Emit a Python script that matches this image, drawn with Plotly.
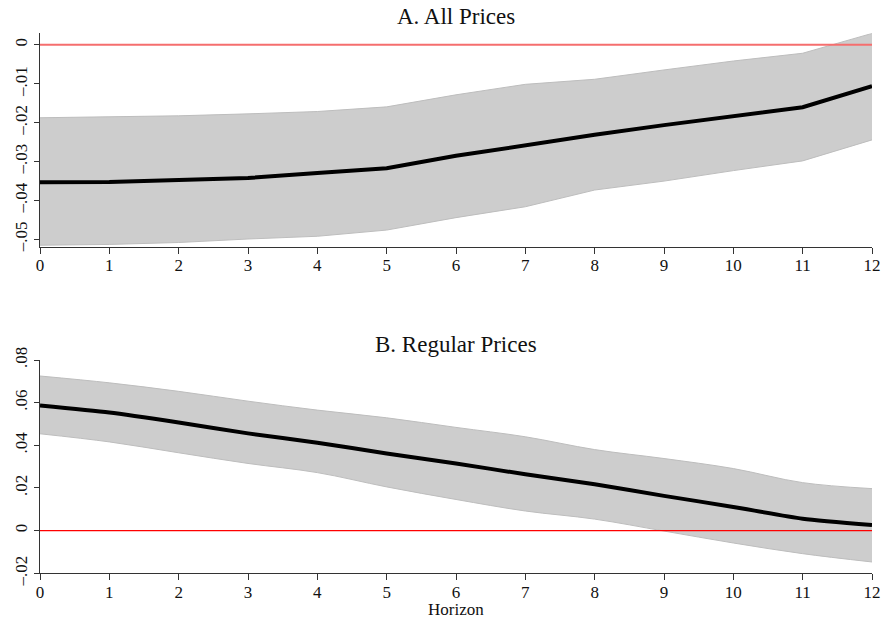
import plotly.graph_objects as go

# Impulse responses by horizon, with confidence bands
horizon = list(range(13))

all_mean = [-0.0354, -0.0353, -0.0348, -0.0343, -0.0330, -0.0318, -0.0286,
            -0.0258, -0.0232, -0.0207, -0.0183, -0.0161, -0.0107]
all_upper = [-0.0188, -0.0186, -0.0183, -0.0178, -0.0172, -0.0160, -0.0129,
             -0.0102, -0.0089, -0.0065, -0.0042, -0.0022, 0.0029]
all_lower = [-0.0516, -0.0514, -0.0509, -0.0500, -0.0493, -0.0477, -0.0445,
             -0.0417, -0.0374, -0.0351, -0.0324, -0.0299, -0.0245]

reg_mean = [0.0587, 0.0554, 0.0507, 0.0456, 0.0412, 0.0362, 0.0315,
            0.0264, 0.0217, 0.0163, 0.0111, 0.0056, 0.0026]
reg_upper = [0.0725, 0.0693, 0.0653, 0.0607, 0.0565, 0.0529, 0.0484,
             0.0440, 0.0380, 0.0338, 0.0291, 0.0225, 0.0197]
reg_lower = [0.0454, 0.0416, 0.0365, 0.0315, 0.0272, 0.0205, 0.0146,
             0.0092, 0.0054, -0.0002, -0.0058, -0.0108, -0.0147]

a_ticks = [0, -0.01, -0.02, -0.03, -0.04, -0.05]
a_ticktext = ["0", "\u2013.01", "\u2013.02", "\u2013.03", "\u2013.04", "\u2013.05"]
b_ticks = [-0.02, 0, 0.02, 0.04, 0.06, 0.08]
b_ticktext = ["\u2013.02", "0", ".02", ".04", ".06", ".08"]

panel_a_title = "A. All Prices"
panel_b_title = "B. Regular Prices"
x_title = "Horizon"

W, H = 881, 618
FONT = "Liberation Serif"
BAND = "#cdcdcd"
BAND_EDGE = "#bdbdbd"


def py(px):
    """Convert a pixel row to paper y."""
    return 1 - px / H


fig = go.Figure()


def add_panel(xa, ya, mean, upper, lower, zero_color, zero_width, shape):
    fig.add_trace(go.Scatter(x=horizon, y=upper, mode="lines",
                             line=dict(color=BAND_EDGE, width=1, shape=shape),
                             xaxis=xa, yaxis=ya, showlegend=False, hoverinfo="skip"))
    fig.add_trace(go.Scatter(x=horizon, y=lower, mode="lines", fill="tonexty",
                             fillcolor=BAND,
                             line=dict(color=BAND_EDGE, width=1, shape=shape),
                             xaxis=xa, yaxis=ya, showlegend=False, hoverinfo="skip"))
    fig.add_trace(go.Scatter(x=[horizon[0], horizon[-1]], y=[0, 0], mode="lines",
                             line=dict(color=zero_color, width=zero_width),
                             xaxis=xa, yaxis=ya, showlegend=False, hoverinfo="skip"))
    fig.add_trace(go.Scatter(x=horizon, y=mean, mode="lines",
                             line=dict(color="black", width=4, shape=shape,
                                       smoothing=0.6),
                             xaxis=xa, yaxis=ya, showlegend=False, hoverinfo="skip"))


add_panel("x", "y", all_mean, all_upper, all_lower, "rgb(245,110,110)", 2, "linear")
add_panel("x2", "y2", reg_mean, reg_upper, reg_lower, "red", 1.3, "spline")

xaxis_common = dict(range=[0, 12], tickmode="array", tickvals=horizon,
                    ticks="outside", ticklen=6, tickcolor="#333", tickwidth=1,
                    showline=True, linecolor="#333", linewidth=1.2,
                    showgrid=False, zeroline=False, automargin=False,
                    ticklabelstandoff=-3,
                    tickfont=dict(family=FONT, size=17, color="#111"))
yaxis_common = dict(ticks="outside", ticklen=5, tickcolor="#333", tickwidth=1,
                    showline=True, linecolor="#333", linewidth=1.2,
                    showgrid=False, zeroline=False, automargin=False,
                    tickangle=-90, tickmode="array",
                    tickfont=dict(family=FONT, size=17, color="#111"))

fig.update_layout(
    width=W, height=H,
    margin=dict(l=40, r=9, t=0, b=0),
    paper_bgcolor="white", plot_bgcolor="white",
    xaxis=dict(xaxis_common, anchor="y"),
    yaxis=dict(yaxis_common, anchor="x", domain=[py(246.7), py(33.3)],
               range=[-0.05198, 0.00293], tickvals=a_ticks, ticktext=a_ticktext),
    xaxis2=dict(xaxis_common, anchor="y2"),
    yaxis2=dict(yaxis_common, anchor="x2", domain=[py(573.3), py(360)],
                range=[-0.02001, 0.08], tickvals=b_ticks, ticktext=b_ticktext),
    annotations=[
        dict(text=panel_a_title, xref="paper", yref="paper", x=0.5, y=py(17),
             showarrow=False, yanchor="middle",
             font=dict(family=FONT, size=23, color="#111")),
        dict(text=panel_b_title, xref="paper", yref="paper", x=0.5, y=py(344),
             showarrow=False, yanchor="middle",
             font=dict(family=FONT, size=23, color="#111")),
        dict(text=x_title, xref="paper", yref="paper", x=0.5, y=py(609),
             showarrow=False, yanchor="middle",
             font=dict(family=FONT, size=17, color="#111")),
    ],
)

fig.write_html("out.html")
